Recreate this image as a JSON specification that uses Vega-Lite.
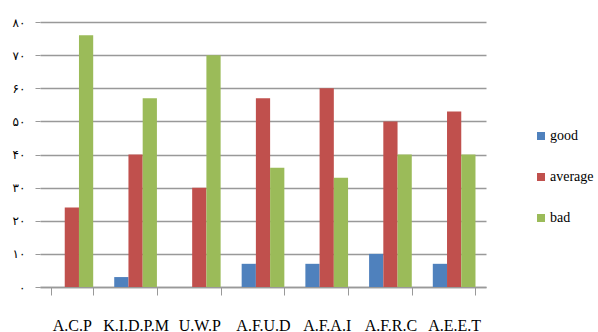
{
  "$schema": "https://vega.github.io/schema/vega-lite/v6.json",
  "width": 446,
  "height": 265,
  "autosize": "none",
  "padding": {"left": 40, "top": 22, "right": 112, "bottom": 45},
  "background": "white",
  "data": {
    "values": [
      {"cat": "A.C.P", "series": "good", "value": 0},
      {"cat": "A.C.P", "series": "average", "value": 24},
      {"cat": "A.C.P", "series": "bad", "value": 76},
      {"cat": "K.I.D.P.M", "series": "good", "value": 3},
      {"cat": "K.I.D.P.M", "series": "average", "value": 40},
      {"cat": "K.I.D.P.M", "series": "bad", "value": 57},
      {"cat": "U.W.P", "series": "good", "value": 0},
      {"cat": "U.W.P", "series": "average", "value": 30},
      {"cat": "U.W.P", "series": "bad", "value": 70},
      {"cat": "A.F.U.D", "series": "good", "value": 7},
      {"cat": "A.F.U.D", "series": "average", "value": 57},
      {"cat": "A.F.U.D", "series": "bad", "value": 36},
      {"cat": "A.F.A.I", "series": "good", "value": 7},
      {"cat": "A.F.A.I", "series": "average", "value": 60},
      {"cat": "A.F.A.I", "series": "bad", "value": 33},
      {"cat": "A.F.R.C", "series": "good", "value": 10},
      {"cat": "A.F.R.C", "series": "average", "value": 50},
      {"cat": "A.F.R.C", "series": "bad", "value": 40},
      {"cat": "A.E.E.T", "series": "good", "value": 7},
      {"cat": "A.E.E.T", "series": "average", "value": 53},
      {"cat": "A.E.E.T", "series": "bad", "value": 40}
    ]
  },
  "config": {"view": {"stroke": null}},
  "mark": {"type": "bar"},
  "encoding": {
    "x": {
      "field": "cat",
      "type": "nominal",
      "sort": null,
      "scale": {"paddingInner": 0.33, "paddingOuter": 0.165},
      "axis": {
        "title": null,
        "labelAngle": 0,
        "labelFont": "Liberation Serif",
        "labelFontSize": 16,
        "labelColor": "#000",
        "labelPadding": 22,
        "tickBand": "extent",
        "tickSize": 8,
        "tickColor": "#999",
        "domainColor": "#999",
        "domainWidth": 1.5,
        "grid": false
      }
    },
    "xOffset": {
      "field": "series",
      "type": "nominal",
      "sort": ["good", "average", "bad"],
      "scale": {"paddingInner": 0, "paddingOuter": 0}
    },
    "y": {
      "field": "value",
      "type": "quantitative",
      "scale": {"domain": [0, 80]},
      "axis": {
        "title": null,
        "values": [0, 10, 20, 30, 40, 50, 60, 70, 80],
        "labelExpr": "['۰','۱۰','۲۰','۳۰','۴۰','۵۰','۶۰','۷۰','۸۰'][datum.value/10]",
        "labelFont": "DejaVu Sans",
        "labelFontSize": 12,
        "labelColor": "#000",
        "labelPadding": 10,
        "domain": false,
        "ticks": true,
        "tickSize": 5,
        "tickColor": "#999",
        "gridColor": "#999",
        "gridWidth": 1.5
      }
    },
    "color": {
      "field": "series",
      "type": "nominal",
      "sort": ["good", "average", "bad"],
      "scale": {"domain": ["good", "average", "bad"], "range": ["#4F81BD", "#C0504D", "#9BBB59"]},
      "legend": {
        "title": null,
        "orient": "none",
        "legendX": 494,
        "legendY": 107,
        "symbolType": "square",
        "symbolSize": 64,
        "symbolStrokeWidth": 0,
        "labelFont": "Liberation Serif",
        "labelFontSize": 14,
        "labelLimit": 0,
        "labelColor": "#000",
        "labelOffset": 2,
        "rowPadding": 27
      }
    }
  }
}
